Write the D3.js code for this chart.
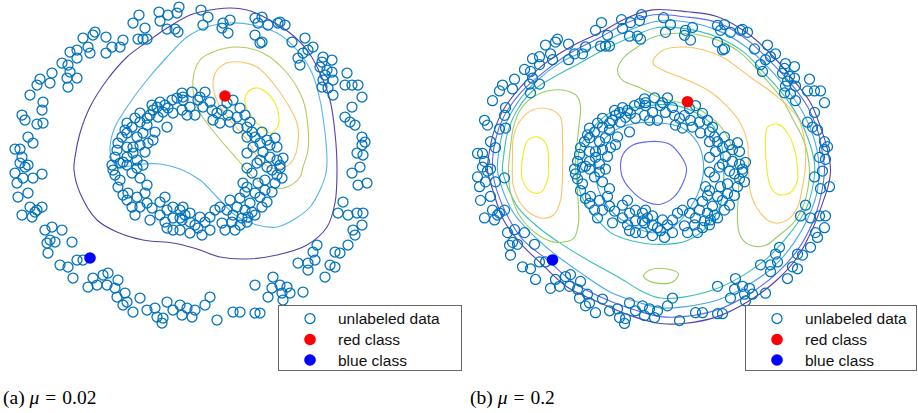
<!DOCTYPE html>
<html><head><meta charset="utf-8">
<script src="https://cdn.jsdelivr.net/npm/d3@7"></script>
<style>body{margin:0;background:#fff}svg{display:block}</style>
</head><body><svg id="c" width="918" height="413"></svg>
<script>
// ---------- DATA ----------
const unlabeledOuter = [[-61,155],[-67,147],[-41,158],[-40,149],[-32,155],[-23,157],[-21,163],[-33,141],[-25,141],[-22,138],[-55,142],[-62,131],[-57,131],[-53,131],[-77,130],[-80,123],[-88,123],[-94,133],[-94,117],[-105,138],[-107,135],[-117,132],[-112,123],[-110,117],[-123,120],[-130,118],[-123,112],[-138,107],[-132,105],[-130,98],[-148,97],[-150,87],[-133,92],[-123,92],[-132,83],[-160,91],[-163,85],[-170,75],[-157,68],[-158,60],[-178,55],[-175,50],[-163,46],[-157,47],[-172,33],[-167,27],[-185,21],[-180,21],[-178,13],[-180,7],[-172,5],[-175,3],
[1,160],[8,153],[3,145],[23,147],[30,150],[28,137],[22,142],[55,152],[62,153],[58,147],[68,145],[78,147],[85,145],[80,148],[55,135],[60,127],[62,128],[92,128],[105,132],[113,123],[108,120],[103,117],[98,112],[100,105],[123,113],[122,108],[132,110],[120,103],[127,100],[132,98],[125,95],[133,90],[123,90],[122,83],[128,82],[147,97],[145,85],[152,85],[158,85],[133,75],[162,73],[152,63],[145,53],[150,48],[155,45],[162,33],[165,28],[162,25],[157,17],[163,15],
[-185,-3],[-177,-8],[-183,-13],[-167,-8],[-158,-4],[-182,-27],[-172,-23],[-170,-37],[-163,-40],[-158,-37],[-178,-45],[-168,-47],[-165,-42],[-155,-60],[-148,-57],[-138,-60],[-150,-70],[-153,-73],[-145,-72],[-152,-83],[-128,-72],[-140,-95],[-132,-97],[-123,-90],[-117,-90],[-127,-108],[-112,-117],[-107,-108],[-103,-115],[-97,-105],[-92,-103],[-93,-115],[-82,-110],[-85,-118],[-83,-127],[-75,-123],[-73,-132],[-77,-135],[-67,-142],[-60,-128],[-53,-140],[-45,-138],[-43,-147],[-37,-148],[-38,-153],[-33,-132],[-27,-140],[-20,-135],[-18,-145],[-13,-138],
[152,-3],[160,3],[158,-15],[167,-13],[143,-32],[138,-43],[148,-45],[157,-43],[163,-43],[162,-55],[153,-60],[155,-65],[148,-75],[117,-75],[113,-82],[115,-90],[108,-93],[98,-93],[108,-100],[135,-82],[140,-83],[130,-95],[135,-97],[125,-107],[73,-107],[72,-118],[80,-115],[87,-117],[82,-123],[90,-123],[68,-127],[83,-130],[103,-122],[55,-115],[10,-127],[5,-135],[-5,-140],[-8,-147],[17,-150],[33,-142],[40,-142],[55,-143],[60,-143]];

const unlabeledInner = [[-18,77],[-23,72],[-17,70],[-40,68],[-35,65],[-43,63],[-32,62],[-27,57],[-37,58],[-47,60],[-50,55],[-60,57],[-53,52],[-42,53],[-13,55],[-18,60],[-33,43],[-60,48],[-68,43],[-73,47],[-53,45],[-45,38],[-47,30],[-57,37],[-63,33],[-73,37],[-78,33],[-82,27],[-73,23],[-67,23],[-60,25],[-52,27],[-73,13],[-67,17],[-63,10],[-55,18],[-80,7],[-77,8],[-57,5],[-85,13],
[-17,73],[-10,63],[0,73],[5,78],[-2,70],[3,63],[-5,55],[12,60],[17,57],[22,60],[27,67],[33,70],[40,62],[45,55],[13,50],[20,47],[30,48],[37,53],[47,43],[38,42],[52,38],[55,33],[47,33],[60,27],[67,30],[75,32],[77,23],[53,23],[63,18],[70,13],[47,17],[60,10],[77,10],[80,5],[67,3],
[-87,0],[-85,-5],[-82,-17],[-73,5],[-68,-3],[-63,2],[-60,-8],[-53,-15],[-72,-23],[-73,-30],[-68,-37],[-63,-27],[-60,-37],[-55,-23],[-53,-33],[-48,-38],[-40,-32],[-35,-27],[-33,-40],[-27,-37],[-20,-40],[-18,-50],[-15,-45],[-33,-58],[-35,-52],[-27,-60],[-20,-60],[-27,-48],
[-17,-37],[-10,-43],[-5,-55],[2,-65],[-10,-63],[-2,-58],[5,-52],[10,-47],[15,-40],[20,-37],[27,-40],[33,-45],[37,-37],[30,-30],[22,-53],[32,-52],[40,-55],[42,-48],[47,-52],[48,-47],[45,-40],[52,-42],[50,-33],[40,-28],[45,-22],[47,-17],[43,-13],[55,-23],[60,-27],[65,-20],[67,-32],[58,-13],[65,-10],[75,-13],[77,-5],[52,-3],[57,7],[47,2],[72,0],[80,2],[0,-47],[-20,-48],
[-28,70],[-48,65],[-65,52],[-75,40],[-83,20],[-88,5],[-80,-10],[-77,-25],[-65,-45],[-50,-50],[-40,-45],[-10,-52],[10,-60],[25,-60],[35,-60],[55,-45],[62,-37],[72,-22],[82,-8],[83,12],[70,25],[62,38],[50,48],[28,55],[10,68],[-8,78]];

const redClass = [[25,74]];
const blueClass = [[-110,-88]];

// contour lines, panel (a), mu = 0.02
const a_purple = [[-126,0],[-125,13],[-120,37],[-110,63],[-93,90],[-73,113],[-53,128],[-33,142],[-10,155],[0,158],[30,162],[47,160],[70,150],[90,137],[107,120],[120,97],[130,70],[135,37],[137,0],[135,-33],[127,-57],[107,-75],[77,-85],[47,-89],[20,-87],[0,-80],[-10,-77],[-27,-73],[-57,-70],[-83,-62],[-103,-50],[-120,-23]];
const a_lightblue = [[-90,23],[-88,10],[-82,3],[-70,4],[-57,6],[-40,6],[-20,1],[0,-10],[17,-27],[35,-45],[57,-55],[77,-57],[93,-50],[110,-37],[120,-20],[126,-3],[127,10],[125,37],[120,70],[112,97],[97,120],[77,137],[53,145],[30,147],[7,143],[-13,133],[-33,113],[-53,90],[-73,63],[-85,43]];
const a_green = [[-7,90],[0,110],[13,118],[37,123],[63,117],[87,97],[103,70],[108,43],[108,20],[103,3],[100,-7],[87,-17],[73,-18],[53,-7],[38,10],[23,27],[7,47],[-3,63]];
const a_orange = [[13,87],[17,100],[27,107],[40,108],[57,103],[73,87],[87,67],[97,47],[98,27],[93,10],[85,3],[72,2],[60,10],[47,30],[30,50],[18,67]];
const a_yellow = [[45,72],[50,80],[58,82],[67,77],[75,67],[79,53],[77,42],[70,37],[62,42],[52,53],[46,63]];

// contour lines, panel (b), mu = 0.2
const b_purple = [[-175,4],[-174,17],[-169,42],[-159,66],[-142,89],[-119,112],[-92,130],[-62,145],[-35,160],[-10,168],[25,166],[55,161],[85,144],[111,120],[131,96],[148,73],[158,48],[165,25],[168,4],[166,-11],[161,-27],[151,-54],[135,-85],[115,-108],[88,-129],[55,-146],[21,-153],[-2,-153],[-29,-146],[-62,-132],[-95,-116],[-122,-91],[-142,-71],[-159,-47],[-169,-19]];
const b_blue = [[-170,4],[-167,35],[-159,58],[-142,83],[-119,104],[-92,124],[-62,140],[-35,155],[-9,163],[21,161],[55,155],[85,137],[108,115],[128,93],[145,69],[155,45],[160,21],[162,4],[158,-24],[150,-50],[135,-78],[115,-101],[88,-122],[55,-139],[21,-146],[-2,-146],[-22,-141],[-55,-129],[-89,-111],[-115,-88],[-139,-68],[-154,-45],[-165,-19]];
const b_lightblue = [[-165,4],[-164,21],[-159,45],[-145,73],[-125,96],[-102,114],[-75,127],[-45,142],[-7,156],[21,156],[55,147],[81,132],[105,110],[125,86],[141,62],[151,38],[156,14],[155,-16],[146,-44],[131,-71],[111,-95],[85,-114],[55,-129],[21,-136],[-2,-137],[-22,-132],[-52,-121],[-82,-101],[-109,-81],[-132,-60],[-149,-40],[-160,-16]];
const b_teal = [[-160,4],[-159,17],[-155,42],[-145,66],[-129,86],[-109,99],[-89,110],[-59,127],[-32,140],[-5,150],[21,149],[55,140],[81,125],[101,104],[121,81],[136,58],[146,35],[152,11],[151,-9],[143,-37],[128,-60],[108,-83],[85,-101],[55,-117],[21,-126],[-2,-127],[-19,-121],[-45,-105],[-75,-88],[-102,-71],[-125,-54],[-144,-35],[-155,-13]];
const b_tealInner = [[-85,7],[-82,28],[-69,48],[-52,63],[-22,69],[8,71],[33,63],[50,50],[59,30],[61,9],[60,-24],[48,-50],[25,-68],[-2,-72],[-32,-68],[-52,-60],[-65,-47],[-75,-34],[-84,-13]];
const b_lightblueInner = [[-2,52],[18,48],[35,32],[41,11],[38,-13],[28,-34],[11,-54],[-2,-60],[-22,-57],[-47,-42],[-62,-21],[-67,4],[-62,30],[-47,45],[-27,52]];
const b_blueInner = [[-42,9],[-39,21],[-29,30],[-15,33],[-2,33],[8,30],[18,19],[24,6],[21,-8],[11,-24],[-2,-31],[-15,-29],[-29,-19],[-39,-6]];
const b_greenBig = [[-45,106],[-39,119],[-25,130],[-12,139],[21,144],[55,137],[78,124],[98,103],[118,79],[131,55],[142,32],[147,4],[146,-11],[141,-32],[131,-50],[115,-64],[103,-73],[88,-73],[78,-64],[75,-47],[76,-16],[75,7],[68,32],[55,52],[31,69],[-2,78],[-22,88],[-40,96]];
const b_greenLeft = [[-85,79],[-92,84],[-109,86],[-129,79],[-142,66],[-149,48],[-152,28],[-154,4],[-152,-19],[-142,-44],[-122,-64],[-105,-70],[-89,-66],[-84,-50],[-85,-19],[-87,11],[-84,45],[-82,69]];
const b_greenSmall = [[-19,-104],[-12,-98],[3,-97],[16,-102],[11,-110],[-4,-112],[-16,-108]];
const b_orangeLeft = [[-102,58],[-112,66],[-129,66],[-142,55],[-149,38],[-150,17],[-149,-13],[-139,-34],[-122,-45],[-109,-42],[-102,-27],[-100,1],[-100,35]];
const b_orangeRight = [[-9,117],[1,127],[21,130],[41,127],[61,119],[88,99],[115,79],[135,58],[142,35],[143,9],[140,-13],[135,-34],[125,-47],[111,-50],[98,-40],[88,-19],[86,9],[85,32],[78,52],[65,69],[48,84],[25,96],[1,106],[-9,112]];
const b_yellowLeft = [[-125,38],[-135,34],[-140,17],[-141,2],[-140,-6],[-132,-18],[-122,-19],[-115,-6],[-114,14],[-116,30]];
const b_yellowRight = [[105,48],[115,51],[125,42],[133,21],[135,4],[135,-6],[128,-19],[116,-21],[108,-13],[104,9],[103,35]];

const legendLabels = ["unlabeled data", "red class", "blue class"];
const captions = [["(a) ", "\u03bc", "=", "0.02"], ["(b) ", "\u03bc", "=", "0.2"]];

// ---------- STYLE / LAYOUT ----------
const C = {purple:"#5a3fa6", blue:"#5d68ee", lightblue:"#47a9e6", teal:"#36c0b2", green:"#95cf5e", orange:"#fbc264", yellow:"#f0ec1e"};
const panels = [
  {xr:[0,370], yr:[330,0], legendX:278, legendW:183, capX:3, caption:captions[0],
   contours:[[a_purple,C.purple],[a_lightblue,"#55b4e8"],[a_green,"#b5cb5c"],[a_orange,C.orange],[a_yellow,C.yellow]]},
  {xr:[462.5,832.5], yr:[330.3,7.9], legendX:745, legendW:171, capX:470, caption:captions[1],
   contours:[[b_purple,C.purple],[b_blue,C.blue],[b_lightblue,C.lightblue],[b_teal,C.teal],[b_tealInner,C.teal],
             [b_lightblueInner,C.lightblue],[b_blueInner,C.blue],[b_greenBig,C.green],[b_greenLeft,C.green],[b_greenSmall,C.green],
             [b_orangeLeft,C.orange],[b_orangeRight,C.orange],[b_yellowLeft,C.yellow],[b_yellowRight,C.yellow]]}
];

const svg = d3.select("#c");
const allPoints = unlabeledOuter.concat(unlabeledInner);

panels.forEach(p => {
  const x = d3.scaleLinear().domain([-200,170]).range(p.xr);
  const y = d3.scaleLinear().domain([-160,170]).range(p.yr);
  const g = svg.append("g");
  const line = d3.line().x(d=>x(d[0])).y(d=>y(d[1])).curve(d3.curveCatmullRomClosed.alpha(0.5));
  g.selectAll("path.ct").data(p.contours).join("path")
    .attr("d", d=>line(d[0])).attr("fill","none").attr("stroke", d=>d[1]).attr("stroke-width",1.1);
  g.selectAll("circle.u").data(allPoints).join("circle")
    .attr("cx", d=>x(d[0])).attr("cy", d=>y(d[1])).attr("r",5)
    .attr("fill","none").attr("stroke","#0072bd").attr("stroke-width",1.25);
  g.selectAll("circle.r").data(redClass).enter().append("circle")
    .attr("cx", d=>x(d[0])).attr("cy", d=>y(d[1])).attr("r",5.8).attr("fill","#ff0000");
  g.selectAll("circle.b").data(blueClass).enter().append("circle")
    .attr("cx", d=>x(d[0])).attr("cy", d=>y(d[1])).attr("r",5.8).attr("fill","#0000ff");

  // legend
  const lg = svg.append("g").attr("transform", `translate(${p.legendX},305)`);
  lg.append("rect").attr("x",0.5).attr("y",0.5).attr("width",p.legendW).attr("height",65)
    .attr("fill","#fff").attr("stroke","#666").attr("stroke-width",1);
  const rowsY = [13.5, 34.5, 55];
  lg.append("circle").attr("cx",32).attr("cy",rowsY[0]).attr("r",5).attr("fill","none").attr("stroke","#0072bd").attr("stroke-width",1.25);
  lg.append("circle").attr("cx",32).attr("cy",rowsY[1]).attr("r",5.8).attr("fill","#ff0000");
  lg.append("circle").attr("cx",32).attr("cy",rowsY[2]).attr("r",5.8).attr("fill","#0000ff");
  lg.selectAll("text").data(legendLabels).join("text")
    .attr("x",60).attr("y",(d,i)=>rowsY[i]+5.5)
    .attr("font-family","'Liberation Sans', Arial, sans-serif").attr("font-size",15.5).attr("fill","#111")
    .text(d=>d);

  // caption
  const t = svg.append("text").attr("x",p.capX).attr("y",404)
    .attr("font-family","'Liberation Serif', 'Times New Roman', serif").attr("font-size",19.5).attr("fill","#000");
  t.append("tspan").text(p.caption[0]);
  t.append("tspan").attr("font-style","italic").text(p.caption[1]);
  t.append("tspan").attr("dx",6).text(p.caption[2]);
  t.append("tspan").attr("dx",6).text(p.caption[3]);
});
</script>
</body></html>
